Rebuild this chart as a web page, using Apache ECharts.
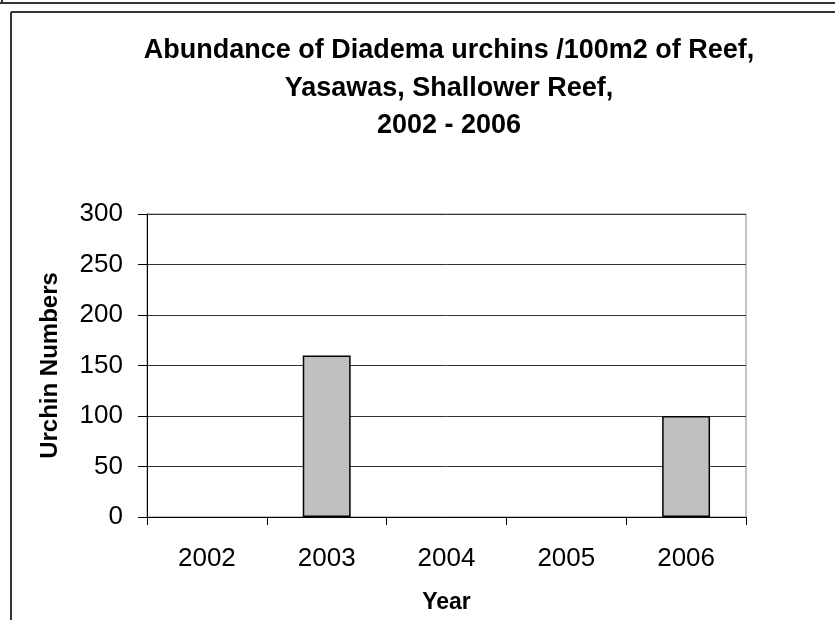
<!DOCTYPE html>
<html>
<head>
<meta charset="utf-8">
<script src="https://cdn.jsdelivr.net/npm/echarts@6/dist/echarts.min.js"></script>
<style>html,body{margin:0;padding:0;background:#fff}#c{width:835px;height:620px}</style>
</head>
<body>
<div id="c"></div>
<script>
var years = ['2002', '2003', '2004', '2005', '2006'];
var urchins = [0, 160, 0, 0, 100];
var yTicks = { min: 0, max: 300, interval: 50 };

var FONT = 'Liberation Sans, Arial, sans-serif';
var chart = echarts.init(document.getElementById('c'), null, { renderer: 'canvas' });
chart.setOption({
  animation: false,
  backgroundColor: '#fff',
  title: {
    text: 'Abundance of Diadema urchins /100m2 of Reef,\nYasawas, Shallower Reef,\n2002 - 2006',
    left: 444, textAlign: 'center', top: 27,
    textStyle: { fontFamily: FONT, fontWeight: 'bold', fontSize: 27, lineHeight: 37.5, color: '#000' }
  },
  graphic: [
    { type: 'line', shape: { x1: 0, y1: 3, x2: 835, y2: 3 }, style: { stroke: '#333', lineWidth: 2 } },
    { type: 'line', shape: { x1: 2, y1: 0, x2: 2, y2: 3 }, style: { stroke: '#333', lineWidth: 2 } },
    { type: 'line', shape: { x1: 11, y1: 12, x2: 835, y2: 12 }, style: { stroke: '#333', lineWidth: 2 } },
    { type: 'line', shape: { x1: 11, y1: 12, x2: 11, y2: 620 }, style: { stroke: '#333', lineWidth: 2 } }
  ],
  grid: { left: 147, right: 89, top: 214, bottom: 103, show: true, borderColor: '#888', borderWidth: 1 },
  xAxis: {
    type: 'category', data: years,
    axisLine: { lineStyle: { color: '#000', width: 1 } },
    axisTick: { show: true, alignWithLabel: false, length: 8, lineStyle: { color: '#000' } },
    axisLabel: { fontFamily: FONT, fontSize: 26, color: '#000', margin: 29 },
    name: 'Year', nameLocation: 'middle', nameGap: 74,
    nameTextStyle: { fontFamily: FONT, fontWeight: 'bold', fontSize: 23, color: '#000' }
  },
  yAxis: {
    type: 'value', min: yTicks.min, max: yTicks.max, interval: yTicks.interval,
    axisLine: { show: true, lineStyle: { color: '#000', width: 1 } },
    axisTick: { show: true, length: 9, lineStyle: { color: '#000' } },
    splitLine: { show: true, lineStyle: { color: '#333', width: 1 } },
    axisLabel: { fontFamily: FONT, fontSize: 26, color: '#000', margin: 24 },
    name: 'Urchin Numbers', nameLocation: 'middle', nameGap: 85,
    nameTextStyle: { fontFamily: FONT, fontWeight: 'bold', fontSize: 24, color: '#000' }
  },
  series: [{
    type: 'bar', data: urchins.map(function (v) { return v === 0 ? '-' : v; }), barWidth: '40%',
    itemStyle: { color: '#c0c0c0', borderColor: '#000', borderWidth: 1.5 }
  }]
});
</script>
</body>
</html>
